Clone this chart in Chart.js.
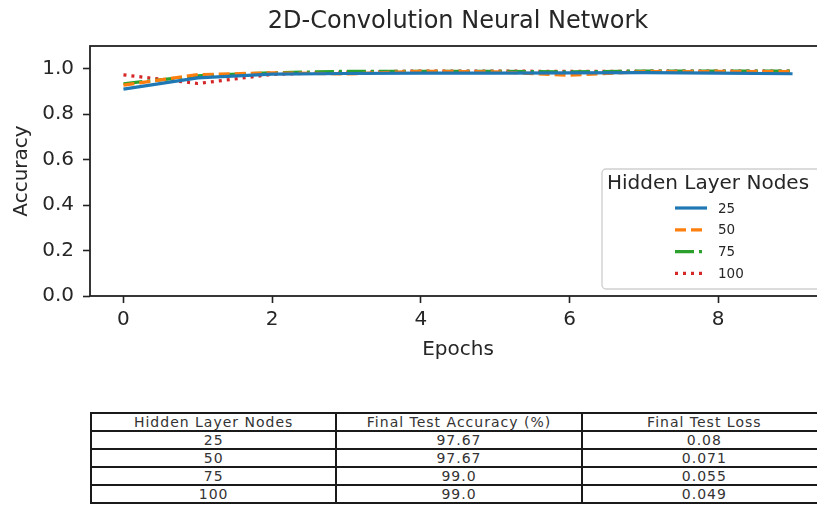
<!DOCTYPE html>
<html>
<head>
<meta charset="utf-8">
<script src="https://cdn.jsdelivr.net/npm/chart.js@4"></script>
<style>
  html, body { margin: 0; padding: 0; background: #fff; overflow: hidden; width: 817px; height: 529px; }
  #plot { position: absolute; left: 0; top: 0; }
  #results {
    position: absolute; left: 90px; top: 412px; width: 738px;
    border-collapse: collapse; table-layout: fixed;
    font-family: 'DejaVu Sans', sans-serif; font-size: 14px; letter-spacing: 1px;
    color: #333;
  }
  #results td {
    height: 16px; padding: 0; line-height: 16px;
    border: 2px solid #1a1a1a; text-align: center; white-space: nowrap;
  }
</style>
</head>
<body>
<canvas id="plot" width="840" height="380"></canvas>
<table id="results"></table>

<script>
// accuracy per epoch for each hidden-layer size
const epochs   = [0, 1, 2, 3, 4, 5, 6, 7, 8, 9];
const nodes25  = [0.910, 0.960, 0.976, 0.979, 0.981, 0.981, 0.982, 0.983, 0.981, 0.978];
const nodes50  = [0.928, 0.974, 0.982, 0.977, 0.989, 0.986, 0.971, 0.987, 0.988, 0.987];
const nodes75  = [0.934, 0.969, 0.982, 0.989, 0.988, 0.989, 0.986, 0.990, 0.990, 0.990];
const nodes100 = [0.973, 0.935, 0.975, 0.985, 0.990, 0.990, 0.988, 0.989, 0.990, 0.990];
const seriesLabels = ['25', '50', '75', '100'];

const xTickValues = [0, 2, 4, 6, 8];
const yTickValues = [0, 0.2, 0.4, 0.6, 0.8, 1.0];

// summary table below the plot
const tableHeader   = ['Hidden Layer Nodes', 'Final Test Accuracy (%)', 'Final Test Loss'];
const finalAccuracy = ['97.67', '97.67', '99.0', '99.0'];
const finalLoss     = ['0.08', '0.071', '0.055', '0.049'];

const chartTitle  = '2D-Convolution Neural Network';
const legendTitle = 'Hidden Layer Nodes';

const FONT = "'DejaVu Sans', sans-serif";
const INK  = '#262626';

// matplotlib-ish line styles: solid, dashed, dash-dot, dotted
const styles = [
  { color: '#1f77b4', dash: [] },
  { color: '#ff7f0e', dash: [11, 5] },
  { color: '#2ca02c', dash: [19, 5, 3, 5] },
  { color: '#d62728', dash: [3, 5] },
];

const series = [nodes25, nodes50, nodes75, nodes100];
const datasets = series.map((vals, i) => ({
  label: seriesLabels[i],
  data: vals.map((y, k) => ({ x: epochs[k], y })),
  borderColor: styles[i].color,
  borderDash: styles[i].dash,
  borderWidth: 3.2,
  borderCapStyle: 'butt',
  pointRadius: 0,
  tension: 0,
  fill: false,
}));

// box around the plotting area (all four spines)
const frame = {
  id: 'frame',
  afterDatasetsDraw(chart) {
    const { left, top, right, bottom } = chart.chartArea;
    const c = chart.ctx;
    c.save();
    c.strokeStyle = '#222';
    c.lineWidth = 1.8;
    c.strokeRect(left, top, right - left, bottom - top);
    c.restore();
  }
};

// legend with a title, sitting inside the axes on the right
const legendBox = {
  id: 'legendBox',
  afterDraw(chart) {
    const c = chart.ctx;
    c.save();
    c.beginPath();
    c.roundRect(602, 169, 224, 120, 4);
    c.fillStyle = 'rgba(255,255,255,0.85)';
    c.fill();
    c.strokeStyle = '#d0d0d0';
    c.lineWidth = 1.4;
    c.stroke();

    c.fillStyle = INK;
    c.textBaseline = 'middle';
    c.textAlign = 'left';
    c.font = `20px ${FONT}`;
    c.fillText(legendTitle, 607, 184);

    c.font = `13.5px ${FONT}`;
    chart.data.datasets.forEach((ds, i) => {
      const y = 208 + i * 21.8;
      c.beginPath();
      c.setLineDash(ds.borderDash);
      c.lineCap = 'butt';
      c.strokeStyle = ds.borderColor;
      c.lineWidth = ds.borderWidth;
      c.moveTo(675, y);
      c.lineTo(707, y);
      c.stroke();
      c.setLineDash([]);
      c.fillStyle = INK;
      c.fillText(ds.label, 718, y + 1);
    });
    c.restore();
  }
};

const axisGrid = {
  drawOnChartArea: false,
  drawTicks: true,
  tickLength: 7,
  tickWidth: 1.6,
  tickColor: '#222',
};

new Chart(document.getElementById('plot'), {
  type: 'line',
  data: { datasets },
  options: {
    responsive: false,
    animation: false,
    devicePixelRatio: 1,
    layout: { padding: { left: 0, right: 14, top: 0, bottom: 0 } },
    plugins: {
      legend: { display: false },
      tooltip: { enabled: false },
      title: {
        display: true,
        text: chartTitle,
        fullSize: false,
        color: INK,
        font: { family: FONT, size: 24, weight: 'normal' },
        padding: { top: 7.6, bottom: 9.6 },
      },
    },
    scales: {
      x: {
        type: 'linear',
        min: -0.45,
        max: 9.45,
        afterBuildTicks: s => { s.ticks = xTickValues.map(value => ({ value })); },
        afterFit: s => { s.height = 84; },
        grid: axisGrid,
        border: { display: false },
        ticks: {
          autoSkip: false, maxRotation: 0, padding: 5,
          color: INK, font: { family: FONT, size: 20 },
          callback: v => String(v),
        },
        title: {
          display: true, text: 'Epochs', color: INK,
          font: { family: FONT, size: 20 },
          padding: { top: 0, bottom: 18 },
        },
      },
      y: {
        min: 0,
        max: 1.1,
        afterBuildTicks: s => { s.ticks = yTickValues.map(value => ({ value })); },
        afterFit: s => { s.width = 90; },
        grid: axisGrid,
        border: { display: false },
        ticks: {
          autoSkip: false, padding: 9,
          color: INK, font: { family: FONT, size: 20 },
          callback: v => v.toFixed(1),
        },
        title: {
          display: true, text: 'Accuracy', color: INK,
          font: { family: FONT, size: 20 },
          padding: { top: 10, bottom: 0 },
        },
      },
    },
  },
  plugins: [frame, legendBox],
});

// build the results table from the arrays above
const table = document.getElementById('results');
const rows = [tableHeader].concat(seriesLabels.map((n, i) => [n, finalAccuracy[i], finalLoss[i]]));
rows.forEach(r => {
  const tr = document.createElement('tr');
  r.forEach(text => {
    const td = document.createElement('td');
    td.textContent = text;
    tr.appendChild(td);
  });
  table.appendChild(tr);
});
</script>
</body>
</html>
